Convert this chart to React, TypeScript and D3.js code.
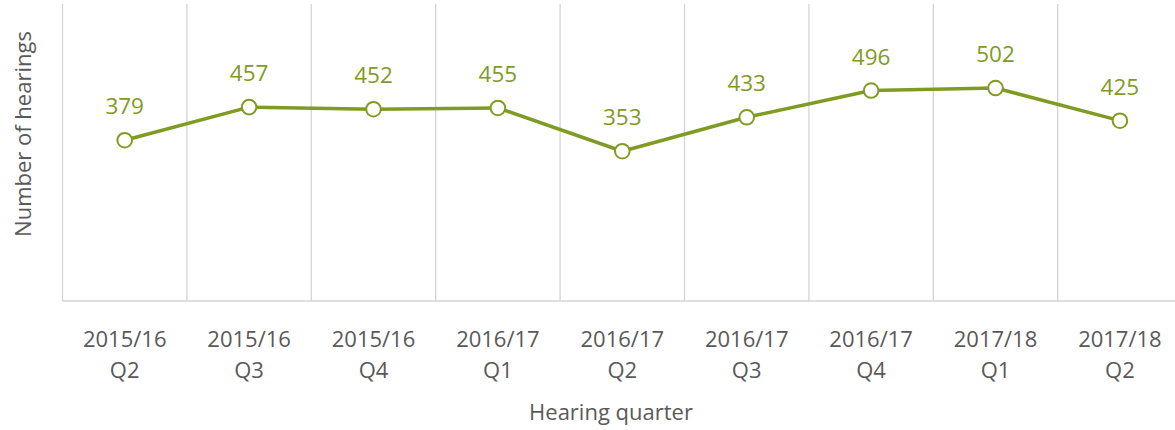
import React from "react";
import * as d3 from "d3";

const categories: string[][] = [
  ["2015/16", "Q2"],
  ["2015/16", "Q3"],
  ["2015/16", "Q4"],
  ["2016/17", "Q1"],
  ["2016/17", "Q2"],
  ["2016/17", "Q3"],
  ["2016/17", "Q4"],
  ["2017/18", "Q1"],
  ["2017/18", "Q2"],
];
const hearings: number[] = [379, 457, 452, 455, 353, 433, 496, 502, 425];
const yDomain: [number, number] = [0, 700];
const xTitle = "Hearing quarter";
const yTitle = "Number of hearings";

const W = 1175;
const H = 430;
const left = 62.5;
const band = 124.4;
const top = 4;
const bottom = 301;
const green = "#7f9b24";
const grid = "#d4d4d4";
const textColor = "#595959";
const font = "'Open Sans', 'Noto Sans', sans-serif";

export default function App() {
  const keys = categories.map((c) => c.join(" "));
  const x = d3
    .scaleBand<string>()
    .domain(keys)
    .range([left, left + band * keys.length])
    .paddingInner(0)
    .paddingOuter(0);
  const y = d3.scaleLinear().domain(yDomain).range([bottom, top]);
  const cx = (i: number) => (x(keys[i]) as number) + x.bandwidth() / 2;
  const line = d3
    .line<number>()
    .x((_, i) => cx(i))
    .y((d) => y(d));

  return (
    <svg
      width={W}
      height={H}
      style={{ position: "absolute", left: 0, top: 0, background: "#fff" }}
      fontFamily={font}
    >
      {keys.map((k, i) => (
        <line
          key={"g" + i}
          x1={x(k) as number}
          x2={x(k) as number}
          y1={y(yDomain[1])}
          y2={bottom}
          stroke={grid}
          strokeWidth={1.3}
        />
      ))}
      <line x1={left} x2={W} y1={bottom} y2={bottom} stroke={grid} strokeWidth={1.5} />
      <path d={line(hearings) || ""} fill="none" stroke={green} strokeWidth={3.5} strokeLinejoin="round" />
      {hearings.map((v, i) => (
        <g key={"p" + i}>
          <circle cx={cx(i)} cy={y(v)} r={7.3} fill="#fff" stroke={green} strokeWidth={2} />
          <text
            x={cx(i)}
            y={y(v) - 26}
            textAnchor="middle"
            fontSize={22.5}
            fill={green}
          >
            {v}
          </text>
        </g>
      ))}
      {categories.map((c, i) => (
        <text key={"t" + i} textAnchor="middle" fontSize={22} fill={textColor}>
          <tspan x={cx(i)} y={347}>
            {c[0]}
          </tspan>
          <tspan x={cx(i)} y={378}>
            {c[1]}
          </tspan>
        </text>
      ))}
      <text x={611} y={420} textAnchor="middle" fontSize={22} fill={textColor}>
        {xTitle}
      </text>
      <text
        transform={`translate(31, ${134}) rotate(-90)`}
        textAnchor="middle"
        fontSize={22}
        fill={textColor}
      >
        {yTitle}
      </text>
    </svg>
  );
}
